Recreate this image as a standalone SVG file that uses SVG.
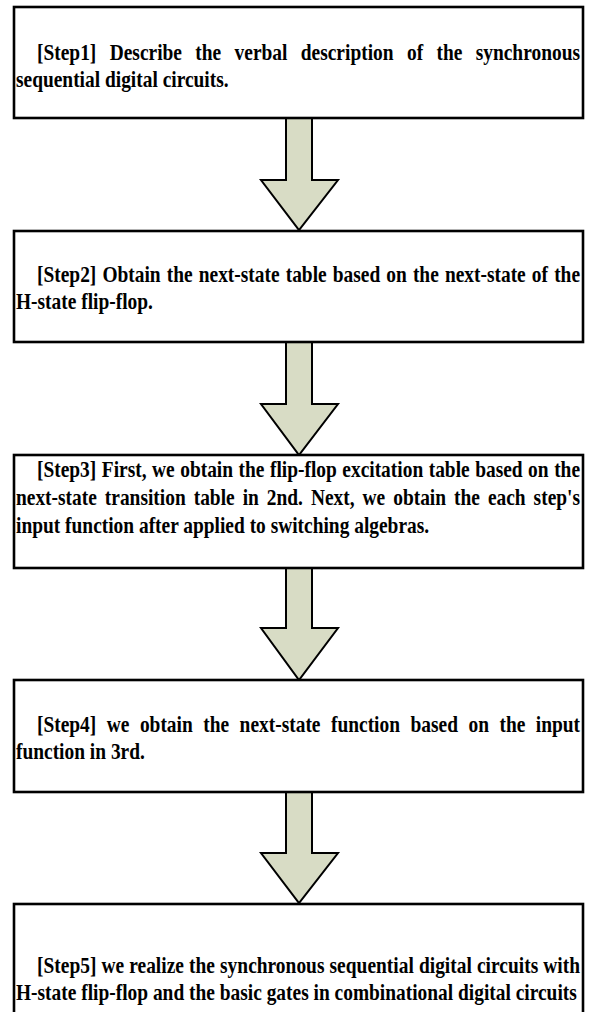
<svg xmlns="http://www.w3.org/2000/svg" width="591" height="1012" viewBox="0 0 591 1012">
<style>
.box{fill:#ffffff;stroke:#000000;stroke-width:2.6}
.arr{fill:#d8dcc5;stroke:#000000;stroke-width:2;stroke-linejoin:miter}
text{font-family:"Liberation Serif","Times New Roman",serif;font-weight:bold;font-size:23.5px;fill:#000000}
</style>
<rect x="0" y="0" width="591" height="1012" fill="#ffffff"/>
<g id="connectors">
<path class="arr" d="M286,118 L312,118 L312,180 L338,180 L299,230 L261,180 L286,180 Z"/>
<path class="arr" d="M286,342 L312,342 L312,404 L338,404 L299,455 L261,404 L286,404 Z"/>
<path class="arr" d="M286,568 L312,568 L312,628 L338,628 L299,680 L261,628 L286,628 Z"/>
<path class="arr" d="M286,792 L312,792 L312,853 L338,853 L299,903 L261,853 L286,853 Z"/>
</g>
<g id="step1">
<rect class="box" x="14" y="7" width="569" height="111"/>
<text transform="translate(37,60) scale(0.826,1)" word-spacing="10.27" textLength="657.4" lengthAdjust="spacing">[Step1] Describe the verbal description of the synchronous</text>
<text transform="translate(16,87) scale(0.826,1)">sequential digital circuits.</text>
</g>
<g id="step2">
<rect class="box" x="14" y="231" width="569" height="111"/>
<text transform="translate(37,282) scale(0.826,1)" word-spacing="1.51" textLength="657.4" lengthAdjust="spacing">[Step2] Obtain the next-state table based on the next-state of the</text>
<text transform="translate(16,309) scale(0.826,1)">H-state flip-flop.</text>
</g>
<g id="step3">
<rect class="box" x="14" y="455" width="569" height="113"/>
<text transform="translate(37,477) scale(0.826,1)" word-spacing="0.79" textLength="657.4" lengthAdjust="spacing">[Step3] First, we obtain the flip-flop excitation table based on the</text>
<text transform="translate(16,505) scale(0.826,1)" word-spacing="3.79" textLength="682.8" lengthAdjust="spacing">next-state transition table in 2nd. Next, we obtain the each step's</text>
<text transform="translate(16,533) scale(0.826,1)">input function after applied to switching algebras.</text>
</g>
<g id="step4">
<rect class="box" x="14" y="680" width="569" height="112"/>
<text transform="translate(37,732) scale(0.826,1)" word-spacing="6.82" textLength="657.4" lengthAdjust="spacing">[Step4] we obtain the next-state function based on the input</text>
<text transform="translate(16,759) scale(0.826,1)">function in 3rd.</text>
</g>
<g id="step5">
<rect class="box" x="14" y="904" width="569" height="130"/>
<text transform="translate(37,973) scale(0.826,1)" word-spacing="0.25" textLength="657.4" lengthAdjust="spacing">[Step5] we realize the synchronous sequential digital circuits with</text>
<text transform="translate(16,1000) scale(0.826,1)">H-state flip-flop and the basic gates in combinational digital circuits</text>
</g>
</svg>
